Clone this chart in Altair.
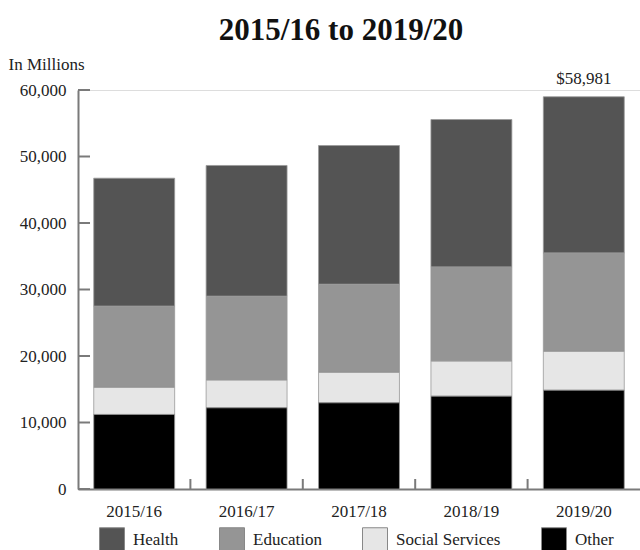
import altair as alt
import pandas as pd

years = ["2015/16", "2016/17", "2017/18", "2018/19", "2019/20"]
categories = ["Health", "Education", "Social Services", "Other"]
health = [19260, 19670, 20870, 22180, 23501]
education = [12210, 12610, 13260, 14160, 14800]
social_services = [4060, 4160, 4560, 5260, 5820]
other = [11210, 12210, 12960, 13960, 14860]
y_tick_values = [0, 10000, 20000, 30000, 40000, 50000, 60000]
colors = ["#545454", "#959595", "#e6e6e6", "#000000"]

FONT = "Liberation Serif"
AXIS_GREY = "#7a7a7a"

series = {"Health": health, "Education": education,
          "Social Services": social_services, "Other": other}
rows = []
for i, cat in enumerate(categories):
    for yr, v in zip(years, series[cat]):
        rows.append({"year": yr, "category": cat, "value": v,
                     "stack": len(categories) - 1 - i})
df = pd.DataFrame(rows)

totals = [sum(series[c][k] for c in categories) for k in range(len(years))]
label_df = pd.DataFrame({"year": [years[-1]], "total": [totals[-1]],
                         "label": ["${:,}".format(totals[-1])]})
xtick_df = pd.DataFrame({"year": years[1:]})
ytick_df = pd.DataFrame({"v": y_tick_values})

W, H = 562, 399
x_scale = alt.Scale(domain=years, paddingInner=0.28, paddingOuter=0.14)
y_scale = alt.Scale(domain=[0, 60000], nice=False)

bars = alt.Chart(df).mark_bar(stroke="#999999", strokeWidth=0.8).encode(
    x=alt.X("year:N", scale=x_scale, sort=years,
            axis=alt.Axis(title=None, labelAngle=0, tickSize=0, labelPadding=14,
                          labelFont=FONT, labelFontSize=17, labelColor="#222222",
                          domainColor=AXIS_GREY, domainWidth=2)),
    y=alt.Y("value:Q", stack="zero", scale=y_scale,
            axis=alt.Axis(values=y_tick_values, format=",.0f", tickSize=0,
                          labelPadding=12, grid=False,
                          labelFont=FONT, labelFontSize=17, labelColor="#222222",
                          domainColor=AXIS_GREY, domainWidth=2,
                          title="In Millions", titleAngle=0, titleAlign="left",
                          titleBaseline="alphabetic", titleX=-70, titleY=-21,
                          titleFont=FONT, titleFontSize=17, titleFontWeight="normal",
                          titleColor="#222222")),
    color=alt.Color("category:N",
                    scale=alt.Scale(domain=categories, range=colors),
                    legend=alt.Legend(title=None, orient="none", legendX=21, legendY=437,
                                      direction="horizontal", columns=4,
                                      symbolType="square", symbolSize=625,
                                      symbolStrokeColor="#888888", symbolStrokeWidth=1,
                                      symbolOpacity=1,
                                      labelFont=FONT, labelFontSize=17,
                                      labelColor="#222222", labelOffset=8,
                                      columnPadding=38)),
    order=alt.Order("stack:Q", sort="ascending"),
)

total_text = alt.Chart(label_df).mark_text(
    dy=-9, baseline="bottom", font=FONT, fontSize=17, color="#222222"
).encode(
    x=alt.X("year:N", scale=x_scale, sort=years),
    y=alt.Y("total:Q", scale=y_scale),
    text="label:N",
)

x_ticks = alt.Chart(xtick_df).mark_rule(
    color=AXIS_GREY, strokeWidth=2, xOffset=-15.74
).encode(
    x=alt.X("year:N", scale=x_scale, sort=years, bandPosition=0),
    y=alt.value(H - 10),
    y2=alt.value(H),
)

y_ticks = alt.Chart(ytick_df).mark_rule(color=AXIS_GREY, strokeWidth=2).encode(
    y=alt.Y("v:Q", scale=y_scale),
    x=alt.value(0),
    x2=alt.value(12),
)

chart = alt.layer(bars, total_text, x_ticks, y_ticks).properties(
    width=W,
    height=H,
    title=alt.TitleParams("2015/16 to 2019/20", font=FONT, fontSize=31,
                          fontWeight="bold", color="#111111", anchor="middle",
                          frame="group", offset=8, dx=-18),
    autosize=alt.AutoSizeParams(type="none"),
    padding={"left": 78, "top": 90, "right": 0, "bottom": 61},
).configure_view(stroke=None).configure(background="white")

chart.save("out.html", embed_options={"renderer": "svg", "actions": False})
